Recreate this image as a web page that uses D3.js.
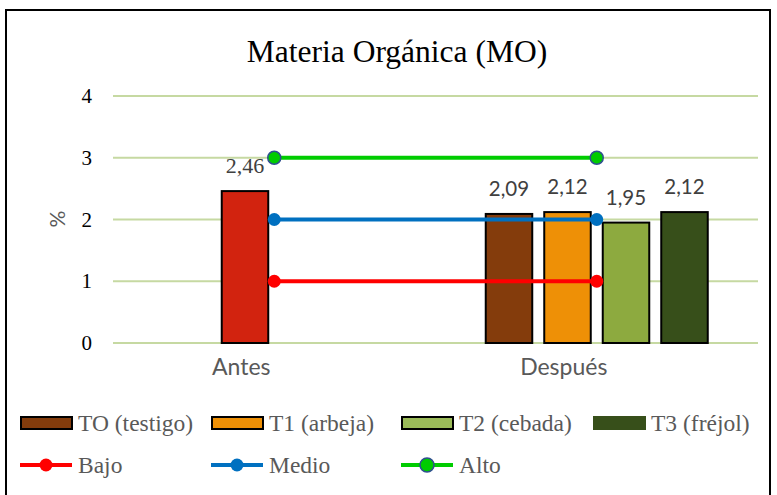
<!DOCTYPE html>
<html><head><meta charset="utf-8">
<script src="https://cdn.jsdelivr.net/npm/d3@7"></script>
<style>body{margin:0;background:#fff}svg{display:block}</style>
</head><body>
<script>
const categories = ["Antes", "Después"];
const seriesNames = ["TO (testigo)", "T1 (arbeja)", "T2 (cebada)", "T3 (fréjol)"];
const valuesTO = [null, 2.09];
const valuesT1 = [2.46, 2.12];
const valuesT2 = [null, 1.95];
const valuesT3 = [null, 2.12];
const lineNames = ["Bajo", "Medio", "Alto"];
const valuesBajo = [1, 1];
const valuesMedio = [2, 2];
const valuesAlto = [3, 3];
const yTicks = [0, 1, 2, 3, 4];
const title = "Materia Orgánica (MO)";
const yTitle = "%";

const barColors = ["#843C0C", "#EE9006", "#8DAA3F", "#374F1A"];
const legendBarColors = ["#843C0C", "#EE9006", "#9BBB59", "#374F1A"];
const antesColor = "#D2230F";
const lineColors = ["#FF0000", "#0070C0", "#00CC00"];

const W = 777, H = 495;
const svg = d3.select("body").append("svg").attr("width", W).attr("height", H);

svg.append("rect").attr("x", 6).attr("y", 10).attr("width", 764).attr("height", 500)
  .attr("fill", "#fff").attr("stroke", "#000").attr("stroke-width", 2);

const x0 = d3.scaleBand().domain(categories).range([113, 758]);
const y = d3.scaleLinear().domain([0, 4]).range([343, 96]);
const innerW = x0.bandwidth() * 0.7256;
const x1 = d3.scaleBand().domain(seriesNames).range([-innerW / 2, innerW / 2])
  .paddingInner(0.205).paddingOuter(0.1025);

// title
svg.append("text").attr("x", 397).attr("y", 62).attr("text-anchor", "middle")
  .attr("font-family", "Liberation Serif").attr("font-size", 31.5).attr("fill", "#000").text(title);

// gridlines
svg.append("g").selectAll("line").data(yTicks).join("line")
  .attr("x1", 113).attr("x2", 758).attr("y1", d => y(d)).attr("y2", d => y(d))
  .attr("stroke", "#C6D9A2").attr("stroke-width", 2);

// y axis
const yAxis = d3.axisLeft(y).tickValues(yTicks).tickSize(0).tickPadding(0).tickFormat(d3.format("d"));
const ga = svg.append("g").attr("transform", "translate(92,0)").call(yAxis);
ga.select(".domain").remove();
ga.selectAll("text").attr("font-family", "Liberation Serif").attr("font-size", 21).attr("fill", "#000");

svg.append("text").attr("transform", "translate(65,219) rotate(-90)").attr("text-anchor", "middle")
  .attr("font-family", "Lato").attr("font-size", 21).attr("fill", "#595959").text(yTitle);

// x axis labels
const xAxis = d3.axisBottom(x0).tickSize(0).tickPadding(0);
const gx = svg.append("g").attr("transform", "translate(0,354)").call(xAxis);
gx.select(".domain").remove();
gx.selectAll("text").attr("font-family", "Lato").attr("font-size", 23).attr("fill", "#595959")
  .attr("dx", -33).attr("dy", "0.9em");

// bars
const seriesVals = [valuesTO, valuesT1, valuesT2, valuesT3];
const barData = [];
categories.forEach((c, ci) => seriesNames.forEach((s, si) => {
  const v = seriesVals[si][ci];
  if (v != null) barData.push({c, s, si, v, color: ci === 0 ? antesColor : barColors[si]});
}));
svg.append("g").selectAll("rect").data(barData).join("rect")
  .attr("x", d => x0(d.c) + x0.bandwidth() / 2 + x1(d.s))
  .attr("width", x1.bandwidth())
  .attr("y", d => y(d.v)).attr("height", d => y(0) - y(d.v))
  .attr("fill", d => d.color).attr("stroke", "#000").attr("stroke-width", 2);

svg.append("g").selectAll("text").data(barData).join("text")
  .attr("x", d => x0(d.c) + x0.bandwidth() / 2 + x1(d.s) + x1.bandwidth() / 2)
  .attr("y", d => y(d.v) - 18).attr("text-anchor", "middle")
  .attr("font-family", d => d.c === "Antes" ? "Liberation Serif" : "Lato")
  .attr("font-size", d => d.c === "Antes" ? 22 : 20.5)
  .attr("fill", "#404040")
  .text(d => d3.format(".2f")(d.v).replace(".", ","));

// lines
const lineVals = [valuesBajo, valuesMedio, valuesAlto];
const lineGen = d3.line().x((d, i) => x0(categories[i]) + x0.bandwidth() / 2).y(d => y(d));
lineVals.forEach((vals, li) => {
  svg.append("path").attr("d", lineGen(vals)).attr("fill", "none")
    .attr("stroke", lineColors[li]).attr("stroke-width", 4);
  svg.append("g").selectAll("circle").data(vals).join("circle")
    .attr("cx", (d, i) => x0(categories[i]) + x0.bandwidth() / 2).attr("cy", d => y(d)).attr("r", 6.5)
    .attr("fill", lineColors[li])
    .attr("stroke", li === 2 ? "#2F4F8F" : lineColors[li]).attr("stroke-width", li === 2 ? 1.5 : 0);
});

// legend
const legX = [21, 212, 402, 594];
seriesNames.forEach((s, i) => {
  svg.append("rect").attr("x", legX[i]).attr("y", 417).attr("width", 51).attr("height", 12)
    .attr("fill", legendBarColors[i]).attr("stroke", i === 3 ? legendBarColors[i] : "#000").attr("stroke-width", 2);
  svg.append("text").attr("x", legX[i] + 57).attr("y", 431)
    .attr("font-family", "Liberation Serif").attr("font-size", 23.5).attr("fill", "#595959").text(s);
});
lineNames.forEach((s, i) => {
  const lx = legX[i];
  svg.append("line").attr("x1", lx - 1).attr("x2", lx + 51).attr("y1", 465).attr("y2", 465)
    .attr("stroke", lineColors[i]).attr("stroke-width", 4);
  svg.append("circle").attr("cx", lx + 25).attr("cy", 465).attr("r", i === 2 ? 7 : 6.5).attr("fill", lineColors[i])
    .attr("stroke", i === 2 ? "#2F4F8F" : lineColors[i]).attr("stroke-width", i === 2 ? 1.5 : 0);
  svg.append("text").attr("x", lx + 57).attr("y", 473)
    .attr("font-family", "Liberation Serif").attr("font-size", 23.5).attr("fill", "#595959").text(s);
});
</script>
</body></html>
